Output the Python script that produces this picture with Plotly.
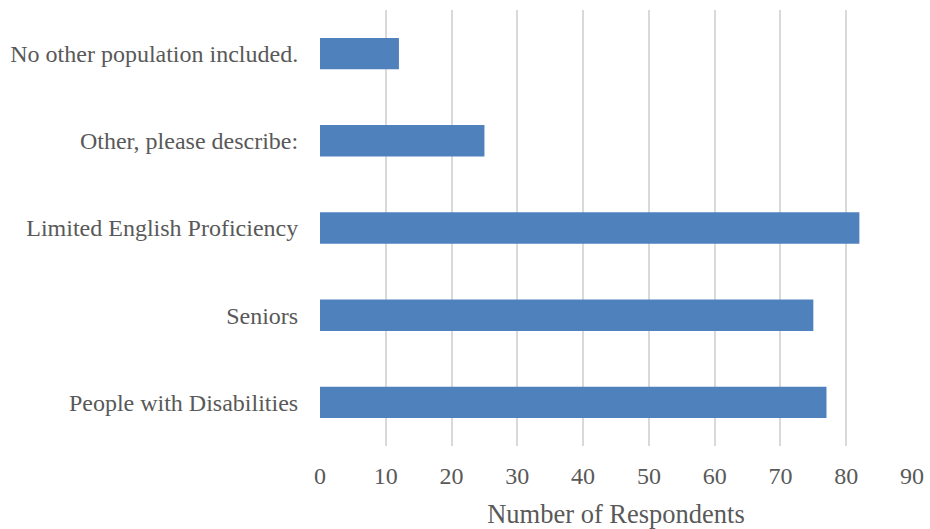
import plotly.graph_objects as go

categories = ["People with Disabilities", "Seniors", "Limited English Proficiency",
              "Other, please describe:", "No other population included."]
values = [77, 75, 82, 25, 12]
x_ticks = [0, 10, 20, 30, 40, 50, 60, 70, 80, 90]

FAM = "Liberation Serif, Times New Roman, serif"

fig = go.Figure(go.Bar(
    y=categories, x=values, orientation="h",
    marker=dict(color="#4F81BD", line=dict(width=0)),
    width=0.36,
))

fig.update_layout(
    width=930, height=529,
    margin=dict(l=320, r=18, t=10, b=83),
    plot_bgcolor="white", paper_bgcolor="white",
    font=dict(family=FAM, color="#595959", size=24), showlegend=False,
    xaxis=dict(
        range=[0, 90], tickvals=x_ticks, ticktext=[str(v) for v in x_ticks],
        showgrid=True, gridcolor="#D9D9D9", gridwidth=2,
        zeroline=False, showline=False, ticks="outside", ticklen=8,
        tickcolor="rgba(0,0,0,0)", automargin=False,
        title=dict(text="Number of Respondents", font=dict(family=FAM, size=26.5, color="#595959"), standoff=18),
        tickfont=dict(family=FAM, size=24, color="#595959"),
    ),
    yaxis=dict(
        showgrid=False, zeroline=False, showline=False, ticks="outside",
        ticklen=16, tickcolor="rgba(0,0,0,0)", automargin=False,
        tickfont=dict(family=FAM, size=24, color="#595959"),
        categoryorder="array", categoryarray=categories,
    ),
)
fig.write_html("out.html")
